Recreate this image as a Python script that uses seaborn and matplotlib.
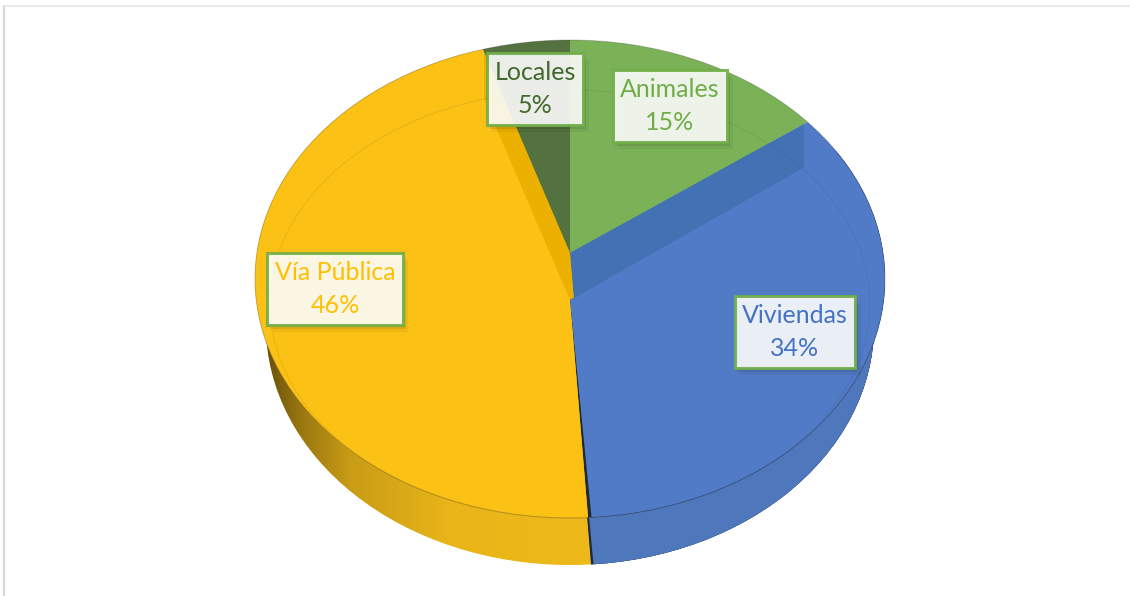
import matplotlib
matplotlib.use("Agg")
import matplotlib.pyplot as plt
import matplotlib.patheffects as pe
from matplotlib.patches import Ellipse, Rectangle
import seaborn as sns
import numpy as np

categories = ["Animales", "Viviendas", "Vía Pública", "Locales"]
values = [15, 34, 46, 5]

top_colors = ["#7CB257", "#517BC6", "#FCC115", "#54723F"]
wall_colors = ["none", "#4272B4", "#EBB000", "none"]
side_colors = ["#7CB257", "#4F78BC", "#F5BE1A", "#54723F"]
text_colors = ["#70AD47", "#4472C4", "#FFC000", "#43682B"]
label_px = [(670, 106), (795, 332), (335, 289), (535, 89)]

W, H = 1130, 596
CX, CY, RX, RY = 570, 279, 315, 239
APEX_BACK = 253
APEX_FRONT = 300
DEPTH = 47
BOTTOM_RX = 304
WALL_LEFT, WALL_RIGHT = 484, 804


def to_xy(px, py):
    return (px - CX) / RX, (CY - py) / RY


def rim(py=CY, rx=RX):
    return Ellipse(to_xy(CX, py), 2 * rx / RX, 2, transform=ax.transData)


def draw_pie(apex, colors, clip, z, start=90, apex_x=CX):
    wedges, _ = ax.pie(values, colors=colors, center=to_xy(apex_x, apex), radius=3,
                       startangle=start, counterclock=False,
                       wedgeprops={"linewidth": 0, "zorder": z})
    for w in wedges:
        w.set_clip_on(True)
        w.set_clip_path(clip)


sns.set_theme(style="white")
plt.rcParams["font.family"] = ["Lato", "DejaVu Sans"]

fig = plt.figure(figsize=(W / 100, H / 100), dpi=100)
ax = fig.add_axes([0, 0, 1, 1])

x0, y0 = to_xy(0, H)
x1, y1 = to_xy(W, 0)
ax.set_xlim(x0, x1)
ax.set_ylim(y0, y1)

# side of the disc
draw_pie(APEX_FRONT + DEPTH, side_colors, rim(CY + DEPTH, BOTTOM_RX), 1, apex_x=CX + 3)

# side shading, dark at both ends
xs = np.linspace(0, W, 566)
shade = np.interp(xs, [262, 300, 350, 450, 590, 700, 800, 850, 878],
                  [0.6, 0.38, 0.18, 0.05, 0.03, 0.07, 0.28, 0.55, 0.8])
rgba = np.zeros((1, len(xs), 4))
rgba[0, :, 3] = shade
img = ax.imshow(rgba, extent=(x0, x1, y0, y1), aspect="auto", zorder=2, interpolation="bilinear")
img.set_clip_path(rim(CY + DEPTH, BOTTOM_RX))

# dark seam on the side between blue and yellow
draw_pie(APEX_FRONT + DEPTH, ["none", "#1F2A38", "none", "none"], rim(CY + DEPTH, BOTTOM_RX), 3, apex_x=CX + 3)
draw_pie(APEX_FRONT + DEPTH, ["none", "#4F78BC", "none", "none"], rim(CY + DEPTH, BOTTOM_RX), 3, start=90.5, apex_x=CX + 3)

# top face: back wedges first, walls only up to the corner lines, then the front wedges
draw_pie(APEX_BACK, top_colors, rim(), 4)
wall_clip = Rectangle(to_xy(WALL_LEFT, 320), (WALL_RIGHT - WALL_LEFT) / RX, 320 / RY, transform=ax.transData)
draw_pie(APEX_BACK, wall_colors, wall_clip, 4.5)
draw_pie(APEX_FRONT, ["none", "#1F2A38", top_colors[2], "none"], rim(), 5)
draw_pie(APEX_FRONT, ["none", top_colors[1], "none", "none"], rim(), 6, start=90.7)

# rim lines
ax.add_patch(Ellipse(to_xy(CX, CY), 2, 2, fill=False, ec="#2B2B2B", lw=0.7, alpha=0.25, zorder=7))
ax.add_patch(Ellipse(to_xy(CX, 304), 600 / RX, 428 / RY, fill=False, ec="#333333",
                     lw=0.7, alpha=0.1, zorder=7))

ax.set_aspect("auto")
ax.set_xlim(x0, x1)
ax.set_ylim(y0, y1)
ax.axis("off")

# page edge
ax.plot(*zip(to_xy(3.5, H), to_xy(3.5, 5.5)), color="#D9D9D9", lw=1.6, zorder=1)
ax.plot(*zip(to_xy(3.5, 5.5), to_xy(W, 5.5)), color="#E6E6E6", lw=1.2, zorder=1)

for name, val, col, (px, py) in zip(categories, values, text_colors, label_px):
    x, y = to_xy(px, py)
    t = ax.text(x, y, f"{name}\n{val}%", color=col, fontsize=18, ha="center", va="center",
                linespacing=1.55, zorder=10,
                bbox=dict(boxstyle="square,pad=0.3", fc="#FFFFFF", alpha=0.89, ec="#70AD47", lw=2.2))
    t.get_bbox_patch().set_path_effects([
        pe.SimplePatchShadow(offset=(4, -5), shadow_rgbFace="#000000", alpha=0.05),
        pe.SimplePatchShadow(offset=(2, -3), shadow_rgbFace="#000000", alpha=0.08),
        pe.Normal(),
    ])

fig.savefig("out.png", dpi=100)
